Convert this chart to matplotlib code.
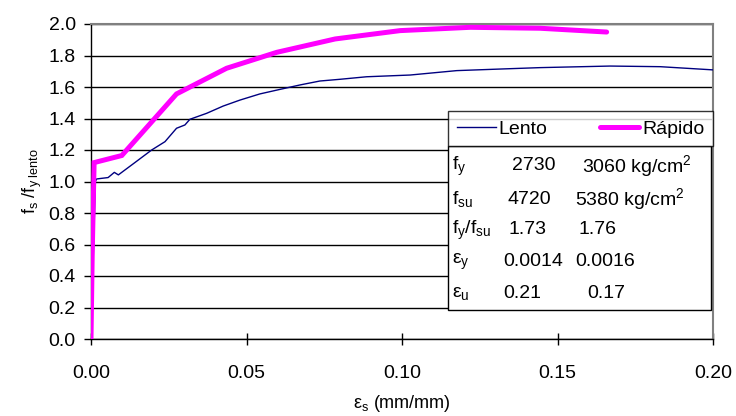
import matplotlib
matplotlib.use("Agg")
import matplotlib.pyplot as plt
from matplotlib.patches import Rectangle

plt.rcParams['font.family'] = ['Liberation Sans', 'DejaVu Sans']
plt.rcParams['mathtext.fontset'] = 'custom'
plt.rcParams['mathtext.rm'] = 'Liberation Sans'
plt.rcParams['mathtext.it'] = 'Liberation Sans'
plt.rcParams['mathtext.sf'] = 'Liberation Sans'

# Lento (slow) test
lento_x = [0.0, 0.0014, 0.0018, 0.0034, 0.0055, 0.0075, 0.0088, 0.0109, 0.0141, 0.0195,
           0.0238, 0.0275, 0.0302, 0.0318, 0.0372, 0.0425, 0.0479, 0.0543, 0.0608,
           0.0672, 0.0736, 0.0801, 0.0886, 0.1026, 0.1176, 0.1315, 0.1444, 0.1669,
           0.1830, 0.2006]
lento_y = [0.0, 1.00, 1.016, 1.02, 1.025, 1.058, 1.042, 1.073, 1.12, 1.20,
           1.253, 1.338, 1.359, 1.395, 1.433, 1.479, 1.517, 1.556, 1.585,
           1.613, 1.638, 1.649, 1.665, 1.676, 1.704, 1.714, 1.723, 1.733,
           1.729, 1.708]

# Rapido (fast) test
rapido_x = [0.0, 0.0004, 0.0010, 0.0099, 0.0275, 0.0436, 0.0597, 0.0785, 0.0994,
            0.1220, 0.1444, 0.1658]
rapido_y = [0.0, 0.55, 1.12, 1.165, 1.556, 1.719, 1.82, 1.905, 1.958,
            1.979, 1.973, 1.949]

x_ticks = [0.0, 0.05, 0.10, 0.15, 0.20]
y_ticks = [0.0, 0.2, 0.4, 0.6, 0.8, 1.0, 1.2, 1.4, 1.6, 1.8, 2.0]

row_labels = [r'$\mathregular{f_y}$', r'$\mathregular{f_{su}}$',
              r'$\mathregular{f_y/f_{su}}$', r'$\mathregular{\varepsilon_y}$',
              r'$\mathregular{\varepsilon_u}$']
col_lento = ['2730', '4720', '1.73', '0.0014', '0.21']
col_rapido = [r'3060 kg/cm$^{\mathregular{2}}$', r'5380 kg/cm$^{\mathregular{2}}$',
              '1.76', '0.0016', '0.17']

fig = plt.figure(figsize=(7.36, 4.16), dpi=100)
ax = fig.add_axes([91/736, 1-339/416, (713-91)/736, (339-24)/416])

ax.plot(lento_x, lento_y, color='#000080', lw=1.0, label='Lento', zorder=3)
ax.plot(rapido_x, rapido_y, color='#FF00FF', lw=3.6, label='Rápido', zorder=4,
        solid_capstyle='round', solid_joinstyle='miter')

ax.set_xlim(0, 0.2)
ax.set_ylim(0, 2.0)
ax.set_xticks(x_ticks)
ax.set_yticks(y_ticks)
ax.set_xticklabels([f'{v:.2f}' for v in x_ticks])
ax.set_yticklabels([f'{v:.1f}' for v in y_ticks])
ax.tick_params(axis='x', direction='inout', length=9, width=1, pad=14,
               labelsize=14, colors='black')
ax.tick_params(axis='y', direction='out', length=5, width=1, pad=6,
               labelsize=14, colors='black')
ax.yaxis.grid(True, color='black', lw=1.0)
ax.set_axisbelow(True)
for s in ['left', 'bottom']:
    ax.spines[s].set_color('black')
    ax.spines[s].set_linewidth(1.0)
for s in ['top', 'right']:
    ax.spines[s].set_color('#808080')
    ax.spines[s].set_linewidth(1.5)

ax.set_xlabel(r'$\mathregular{\varepsilon_s}$ (mm/mm)', fontsize=13, labelpad=8)
ax.set_ylabel(r'$\mathregular{f_s\ /f_{y\ lento}}$', fontsize=13, labelpad=3)

# legend box
lx0 = (448-91)/622
ly0 = (339-145.7)/315
ly1 = (339-111.7)/315
leg = ax.legend(loc='center', bbox_to_anchor=(lx0, ly0, 1.0-lx0, ly1-ly0),
                mode='expand', ncol=2, fontsize=14, frameon=True, fancybox=False,
                edgecolor='black', handlelength=2.0, handletextpad=0.15,
                columnspacing=1.0, borderaxespad=0, borderpad=0.45)
leg.get_frame().set_linewidth(1.0)
leg.set_zorder(10)

# table box
ty0 = (339-310)/315
ax.add_patch(Rectangle((lx0, ty0), 1.0-lx0-0.003, ly0-ty0, transform=ax.transAxes,
                       facecolor='white', edgecolor='black', lw=1.0, zorder=9))

row_y = [166, 199, 230, 262, 294]
c1_x = [512, 507, 508, 503, 503]
c2_x = [582, 575, 579, 575, 587]
for lab, v1, v2, py, x1, x2 in zip(row_labels, col_lento, col_rapido, row_y, c1_x, c2_x):
    yy = (339-py)/315
    ax.text((452-91)/622, yy, lab, transform=ax.transAxes, fontsize=14,
            va='center', ha='left', zorder=11)
    ax.text((x1-91)/622, yy, v1, transform=ax.transAxes, fontsize=14,
            va='center', ha='left', zorder=11)
    ax.text((x2-91)/622, yy, v2, transform=ax.transAxes, fontsize=14,
            va='center', ha='left', zorder=11)

fig.savefig('out.png', dpi=100)
